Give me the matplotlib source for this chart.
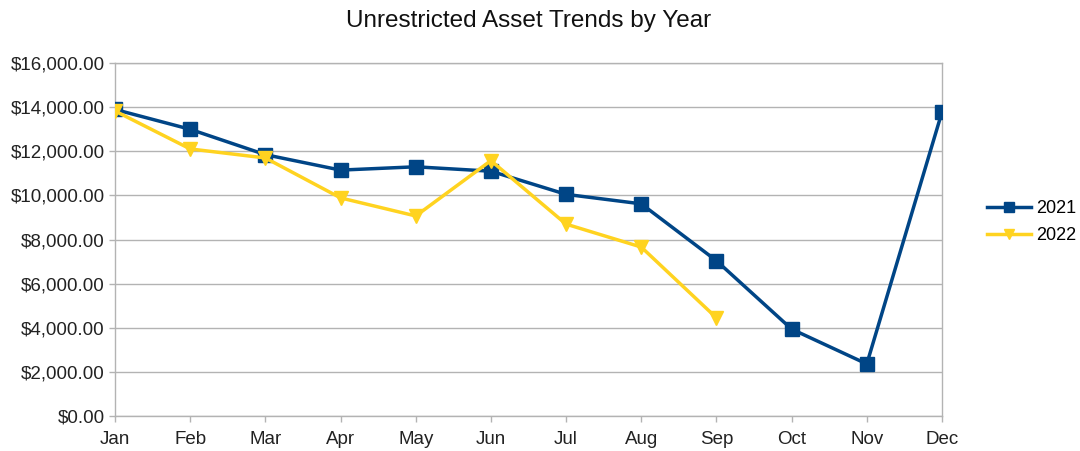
import matplotlib
matplotlib.use("Agg")
import matplotlib.pyplot as plt
from matplotlib.ticker import FuncFormatter, MultipleLocator

months = ["Jan", "Feb", "Mar", "Apr", "May", "Jun", "Jul", "Aug", "Sep", "Oct", "Nov", "Dec"]
assets_2021 = [13900, 13000, 11850, 11150, 11300, 11100, 10050, 9620, 7040, 3940, 2360, 13780]
assets_2022 = [13830, 12110, 11700, 9890, 9070, 11580, 8700, 7660, 4450]

plt.rcParams["font.family"] = ["Liberation Sans", "DejaVu Sans"]

fig = plt.figure(figsize=(10.8, 4.51), dpi=100)
ax = fig.add_axes([0.1065, 0.0776, 0.7657, 0.7824])

grid_c = "#b3b3b3"
ax.plot(range(len(assets_2021)), assets_2021, color="#004586", lw=2.5,
        marker="s", ms=9.5, label="2021", zorder=3)
ax.plot(range(len(assets_2022)), assets_2022, color="#ffd320", lw=2.5,
        marker="v", ms=10, label="2022", zorder=3)

ax.set_xlim(0, 11)
ax.set_ylim(0, 16000)
ax.set_xticks(range(len(months)))
ax.set_xticklabels(months)
ax.yaxis.set_major_locator(MultipleLocator(2000))
ax.yaxis.set_major_formatter(FuncFormatter(lambda v, p: f"${v:,.2f}"))
ax.grid(axis="y", color=grid_c, lw=1)
ax.set_axisbelow(True)
for s in ax.spines.values():
    s.set_color(grid_c)
    s.set_linewidth(1)
ax.tick_params(colors=grid_c, length=4, width=1, labelcolor="#222222", labelsize=13.5)
ax.tick_params(axis="x", pad=7)

ax.set_title("Unrestricted Asset Trends by Year", fontsize=17.5, pad=26, color="#111111")

ax.legend(loc="center left", bbox_to_anchor=(1.035, 0.55), frameon=False,
          fontsize=13, handlelength=2.4, handletextpad=0.3, labelspacing=0.55,
          markerscale=0.75)

fig.savefig("out.png", dpi=100)
